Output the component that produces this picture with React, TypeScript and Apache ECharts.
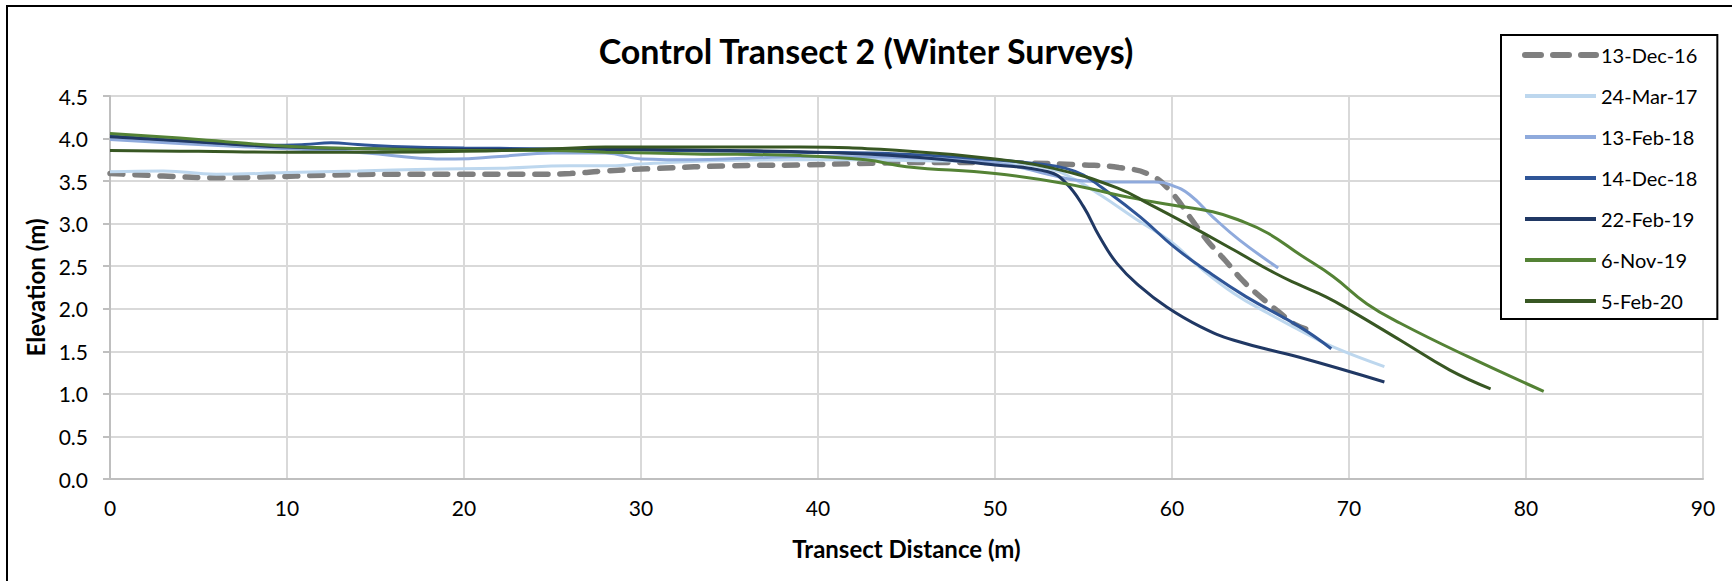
import React, { useEffect, useRef } from "react";
import * as echarts from "echarts";

const chartTitle = "Control Transect 2 (Winter Surveys)";
const xAxisName = "Transect Distance (m)";
const yAxisName = "Elevation (m)";

const seriesNames = ["13-Dec-16", "24-Mar-17", "13-Feb-18", "14-Dec-18", "22-Feb-19", "6-Nov-19", "5-Feb-20"];
const seriesColors = ["#7f7f7f", "#bdd7ee", "#8faadc", "#2f5597", "#203864", "#548235", "#385723"];

const dec16 = [
  [0, 3.59], [3, 3.56], [6, 3.54], [9, 3.55], [12, 3.57], [16, 3.58], [20, 3.58], [24, 3.58], [26, 3.59],
  [28, 3.62], [31, 3.65], [35, 3.68], [39, 3.69], [43, 3.71], [47, 3.72], [52, 3.71], [55, 3.69], [57, 3.66],
  [58.8, 3.57], [60, 3.36], [61, 3.08], [62, 2.8], [63, 2.57], [64, 2.33], [65, 2.14], [66, 1.97], [67, 1.81], [68.2, 1.73],
];
const mar17 = [
  [0, 3.61], [3, 3.62], [6, 3.58], [10, 3.6], [14, 3.62], [18, 3.64], [22, 3.65], [26, 3.68], [28, 3.68],
  [30, 3.7], [34, 3.74], [38, 3.75], [42, 3.75], [46, 3.74], [50, 3.72], [53, 3.65], [54.5, 3.52], [56, 3.33],
  [58, 3.05], [60, 2.78], [61.6, 2.48], [63.5, 2.18], [65.4, 1.95], [67.2, 1.75], [69, 1.56], [72, 1.32],
];
const feb18 = [
  [0, 3.99], [5, 3.93], [10, 3.88], [14.5, 3.83], [17.5, 3.77], [19.5, 3.76], [22, 3.79], [25, 3.83], [28, 3.83],
  [30, 3.76], [33, 3.75], [36, 3.77], [40, 3.79], [44, 3.78], [48, 3.75], [51, 3.68], [53, 3.58], [55, 3.5],
  [57, 3.49], [59, 3.49], [60, 3.45], [61, 3.34], [62.3, 3.08], [63.8, 2.81], [66, 2.48],
];
const dec18 = [
  [0, 4.03], [3, 3.99], [6, 3.95], [9, 3.92], [11, 3.93], [12.5, 3.95], [14, 3.93], [17, 3.9], [20, 3.89],
  [24, 3.88], [28, 3.87], [32, 3.86], [36, 3.85], [39, 3.84], [44.5, 3.82], [50, 3.75], [52.5, 3.7], [54, 3.65],
  [55, 3.57], [56, 3.43], [58.2, 3.08], [60.1, 2.73], [62, 2.44], [64.2, 2.14], [67.2, 1.79], [69, 1.53],
];
const feb19 = [
  [0, 4.02], [5, 3.96], [10, 3.9], [15, 3.88], [20, 3.87], [25, 3.87], [30, 3.87], [35, 3.86], [40, 3.84],
  [45, 3.79], [50, 3.69], [53, 3.61], [54, 3.48], [55, 3.2], [55.9, 2.85], [56.9, 2.53], [58.2, 2.26],
  [59.7, 2.02], [61.6, 1.79], [63.5, 1.63], [67.2, 1.43], [72, 1.14],
];
const nov19 = [
  [0, 4.06], [5, 3.99], [10, 3.91], [15, 3.88], [20, 3.86], [25, 3.86], [28, 3.84], [33, 3.82], [39, 3.8],
  [42.7, 3.75], [45, 3.67], [50, 3.59], [54, 3.47], [57.8, 3.3], [60, 3.22], [62.3, 3.14], [63.8, 3.04],
  [65.4, 2.89], [67.2, 2.64], [69.1, 2.38], [71, 2.06], [72.9, 1.83], [76.7, 1.44], [81, 1.03],
];
const feb20 = [
  [0, 3.86], [5, 3.85], [10, 3.84], [15, 3.84], [20, 3.85], [25, 3.88], [28, 3.9], [33, 3.9], [39, 3.9],
  [44.6, 3.86], [50, 3.76], [53.3, 3.65], [56.9, 3.42], [58.8, 3.22], [60.8, 3.0], [63.5, 2.69], [65.8, 2.42],
  [67.2, 2.28], [68.7, 2.14], [70, 1.99], [72.9, 1.63], [75.7, 1.28], [78, 1.06],
];
const seriesData = [dec16, mar17, feb18, dec18, feb19, nov19, feb20];

const FONT = "Lato";

export default function App() {
  const ref = useRef<HTMLDivElement>(null);
  useEffect(() => {
    if (!ref.current) return;
    const chart = echarts.init(ref.current, undefined, { renderer: "svg" });
    const series = seriesNames.map((name, i) => ({
      name,
      type: "line",
      data: seriesData[i],
      smooth: 0.45,
      symbol: "none",
      showSymbol: false,
      z: 2 + i,
      lineStyle: i === 0
        ? { color: seriesColors[i], width: 5.5, type: [13, 12], cap: "round" }
        : { color: seriesColors[i], width: 3 },
      itemStyle: { color: seriesColors[i] },
    }));
    const legendData = seriesNames.map((name, i) => ({
      name,
      lineStyle: i === 0
        ? { color: seriesColors[i], width: 6, type: [16, 12], cap: "round" }
        : { color: seriesColors[i], width: 4 },
    }));
    chart.setOption({
      animation: false,
      backgroundColor: "#ffffff",
      title: {
        text: chartTitle,
        left: "center",
        top: 28,
        textStyle: { fontFamily: FONT, fontSize: 34, fontWeight: "bold", color: "#000" },
      },
      graphic: [
        {
          type: "rect",
          shape: { x: 7, y: 6, width: 1800, height: 700 },
          style: { fill: "none", stroke: "#000", lineWidth: 2 },
          silent: true,
        },
      ],
      legend: {
        orient: "vertical",
        left: 1501,
        top: 35,
        padding: [10, 20, 8, 21],
        itemWidth: 71,
        itemHeight: 14,
        itemGap: 21,
        borderColor: "#000",
        borderWidth: 2,
        backgroundColor: "#fff",
        itemStyle: { opacity: 0, borderWidth: 0 },
        textStyle: { fontFamily: FONT, fontSize: 20, color: "#000" },
        data: legendData,
      },
      grid: { left: 110, right: 29, top: 96, bottom: 102, containLabel: false },
      xAxis: {
        type: "value",
        min: 0,
        max: 90,
        interval: 10,
        name: xAxisName,
        nameLocation: "middle",
        nameGap: 57,
        nameTextStyle: { fontFamily: FONT, fontSize: 24, fontWeight: "bold", color: "#000" },
        axisLine: { show: true, lineStyle: { color: "#bfbfbf", width: 2 } },
        axisTick: { show: false },
        axisLabel: { margin: 18, fontFamily: FONT, fontSize: 21, color: "#000" },
        splitLine: { show: true, lineStyle: { color: "#d9d9d9", width: 2 } },
      },
      yAxis: {
        type: "value",
        min: 0,
        max: 4.5,
        interval: 0.5,
        name: yAxisName,
        nameLocation: "middle",
        nameGap: 62,
        nameTextStyle: { fontFamily: FONT, fontSize: 24, fontWeight: "bold", color: "#000" },
        axisLine: { show: true, lineStyle: { color: "#bfbfbf", width: 2 } },
        axisTick: { show: true, length: 7, lineStyle: { color: "#bfbfbf", width: 2 } },
        axisLabel: {
          margin: 22,
          fontFamily: FONT,
          fontSize: 21,
          color: "#000",
          formatter: (v: number) => v.toFixed(1),
        },
        splitLine: { show: true, lineStyle: { color: "#d9d9d9", width: 2 } },
      },
      series,
    });
    return () => chart.dispose();
  }, []);
  return (
    <div
      ref={ref}
      style={{ position: "absolute", left: 0, top: 0, width: 1732, height: 581, background: "#fff" }}
    />
  );
}
